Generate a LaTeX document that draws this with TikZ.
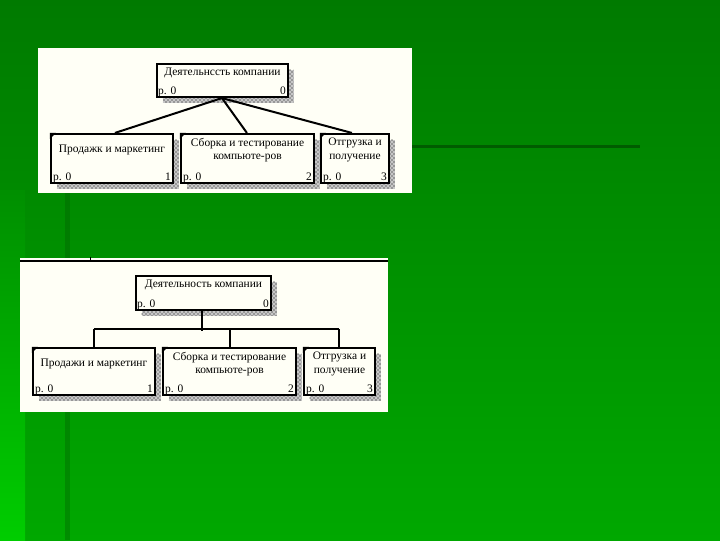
\documentclass[tikz,border=0pt]{standalone}
\usepackage{fontspec}
\setmainfont{Liberation Serif}
\usetikzlibrary{calc,patterns}
\definecolor{bgtop}{RGB}{0,122,0}
\definecolor{bgbot}{RGB}{0,168,0}
\definecolor{stripe}{RGB}{0,205,0}
\definecolor{darkline}{RGB}{0,92,0}
\definecolor{paper}{RGB}{255,255,246}
\newcommand\idefbox[6]{%
  \node[#6, minimum width={(#4-#2)*0.75pt}, minimum height={(#5-#3)*0.75pt}] (#1) at ({(#2+#4)/2},{(#3+#5)/2}) {};}
\tikzset{
  box/.style={draw=black, line width=1.6pt, fill=paper, inner sep=0pt,
    preaction={fill=black!22, transform canvas={shift={(4.3pt,-4.3pt)}}},
    preaction={pattern=crosshatch dots, pattern color=black,
      transform canvas={shift={(4.3pt,-4.3pt)}}}},
  title/.style={font=\fontsize{8.6pt}{10pt}\selectfont, align=center, inner sep=0pt},
  small/.style={font=\fontsize{8.6pt}{10pt}\selectfont, inner sep=0pt},
  conn/.style={line width=1.5pt, draw=black},
  corner/.style={fill=black},
}
\begin{document}
\begin{tikzpicture}[x=0.75pt,y=-0.75pt]
% background
\shade[top color=bgtop, bottom color=bgbot] (0,0) rectangle (720,540);
\shade[top color=bgbot!45!bgtop, bottom color=stripe] (0,190) rectangle (25,540);
\fill[darkline, opacity=0.35] (65,193) rectangle (70,540);
\fill[darkline] (412,144.5) rectangle (640,148);
\useasboundingbox (0,0) rectangle (720,540);

% ---------- panel 1 ----------
\fill[paper] (38,48) rectangle (412,193);
\idefbox{ta}{157}{64}{288}{97}{box}
\idefbox{a1}{51}{134}{173}{183}{box}
\idefbox{a2}{181}{134}{314}{183}{box}
\idefbox{a3}{321}{134}{389}{183}{box}
\coordinate (tap) at ($(ta.south west)+(66,0)$);
\draw[conn] (tap) -- ($(a1.north west)+(65,0)$);
\draw[conn] (tap) -- ($(a2.north west)+(67,0)$);
\draw[conn] (tap) -- ($(a3.north west)+(32,0)$);
\node[title] (tat) at ($(ta.north)+(0,10)$) {Деятельнсcть компании};
\node[small, anchor=base west] (tap0) at ($(ta.south west)+(2,-4)$) {р. 0};
\node[small, anchor=base east] (tan) at ($(ta.south east)+(-3,-4)$) {0};
\foreach \b/\t/\n in {a1/{Продажк и маркетинг}/1, a2/{Сборка и тестирование\\компьюте-ров}/2, a3/{Отгрузка и\\получение}/3}{
  \fill[corner] (\b.north west) -- ++(6,0) -- ++(-6,6) -- cycle;
  \node[title] (\b t) at ($(\b.north)+(0,17)$) {\t};
  \node[small, anchor=base west] (\b p) at ($(\b.south west)+(3,-4)$) {р. 0};
  \node[small, anchor=base east] (\b n) at ($(\b.south east)+(-3,-4)$) {\n};
}

% ---------- panel 2 ----------
\fill[paper] (20,258) rectangle (388,412);
\draw[line width=0.8pt] (20,261) -- (388,261);
\draw[line width=0.6pt] (90,257) -- (90,261);
\idefbox{tb}{136}{276}{271}{310}{box}
\idefbox{b1}{33}{348}{155}{395}{box}
\idefbox{b2}{163}{348}{296}{395}{box}
\idefbox{b3}{304}{348}{375}{395}{box}
\coordinate (tbp) at ($(tb.south west)+(67,0)$);
\coordinate (jb) at ($(tbp)+(0,20)$);
\coordinate (jl) at ($(b1.north west)+(62,-18)$);
\coordinate (jr) at ($(b3.north west)+(36,-18)$);
\draw[conn] (tbp) -- (jb);
\draw[conn] (jl) -- (jr);
\draw[conn] (jl) -- (jl |- b1.north);
\draw[conn] ($(b2.north west)+(68,-18)$) -- ($(b2.north west)+(68,0)$);
\draw[conn] (jr) -- (jr |- b3.north);
\node[title] (tbt) at ($(tb.north)+(0,10)$) {Деятельность компании};
\node[small, anchor=base west] (tbp0) at ($(tb.south west)+(2,-4)$) {р. 0};
\node[small, anchor=base east] (tbn) at ($(tb.south east)+(-3,-4)$) {0};
\foreach \b/\t/\n in {b1/{Продажи и маркетинг}/1, b2/{Сборка и тестирование\\компьюте-ров}/2, b3/{Отгрузка и\\получение}/3}{
  \fill[corner] (\b.north west) -- ++(6,0) -- ++(-6,6) -- cycle;
  \node[title] (\b t) at ($(\b.north)+(0,17)$) {\t};
  \node[small, anchor=base west] (\b p) at ($(\b.south west)+(3,-4)$) {р. 0};
  \node[small, anchor=base east] (\b n) at ($(\b.south east)+(-3,-4)$) {\n};
}
\end{tikzpicture}
\end{document}
